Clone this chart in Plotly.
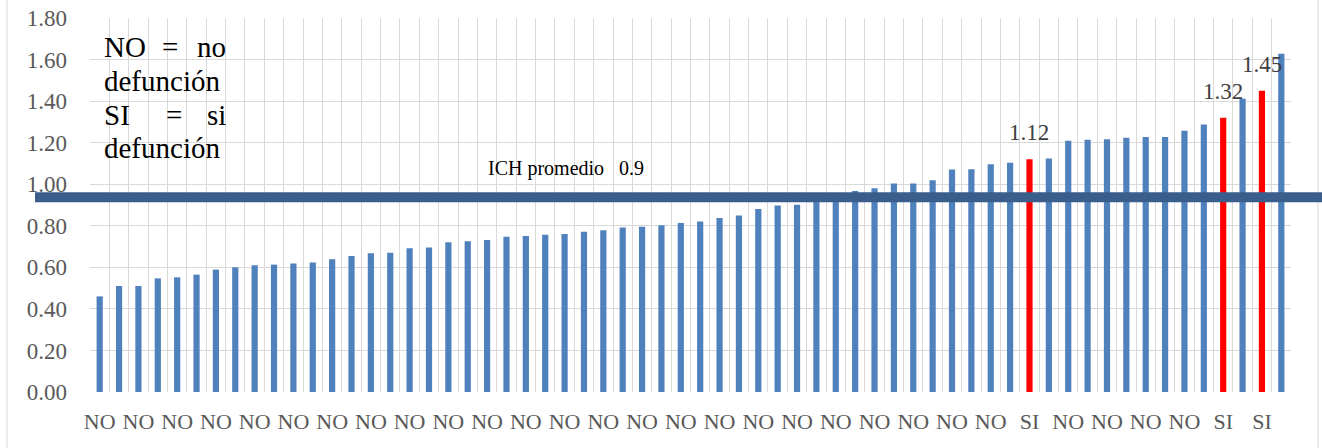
import plotly.graph_objects as go

# ---- data ----
ich_values = [0.46, 0.51, 0.51, 0.547, 0.552, 0.565, 0.589, 0.60, 0.61, 0.613,
              0.618, 0.623, 0.639, 0.654, 0.668, 0.670, 0.692, 0.695, 0.721, 0.726,
              0.731, 0.747, 0.751, 0.757, 0.76, 0.771, 0.778, 0.792, 0.795, 0.802,
              0.813, 0.821, 0.837, 0.85, 0.881, 0.897, 0.901, 0.92, 0.955, 0.967,
              0.981, 1.003, 1.003, 1.019, 1.071, 1.072, 1.096, 1.103, 1.12, 1.124,
              1.209, 1.214, 1.216, 1.224, 1.227, 1.227, 1.257, 1.288, 1.32, 1.411,
              1.45, 1.628]
outcome = ["NO", "NO", "NO", "NO", "NO", "NO", "NO", "NO", "NO", "NO",
           "NO", "NO", "NO", "NO", "NO", "NO", "NO", "NO", "NO", "NO",
           "NO", "NO", "NO", "NO", "NO", "NO", "NO", "NO", "NO", "NO",
           "NO", "NO", "NO", "NO", "NO", "NO", "NO", "NO", "NO", "NO",
           "NO", "NO", "NO", "NO", "NO", "NO", "NO", "NO", "SI", "NO",
           "NO", "NO", "NO", "NO", "NO", "NO", "NO", "NO", "SI", "NO",
           "SI", "NO"]
ich_mean_line = 0.937
ich_mean_label = "ICH promedio   0.9"
y_ticks = [0.0, 0.2, 0.4, 0.6, 0.8, 1.0, 1.2, 1.4, 1.6, 1.8]

positions = list(range(len(ich_values)))
BLUE = "#4F81BD"
RED = "#FF0000"
bar_colors = [RED if o == "SI" else BLUE for o in outcome]

SERIF = "Liberation Serif"
GRID = "#D9D9D9"

fig = go.Figure()
fig.add_trace(go.Bar(
    x=positions, y=ich_values,
    marker=dict(color=bar_colors, line=dict(width=0)),
    width=0.32, showlegend=False, hoverinfo="x+y",
))

# data labels for the "SI" bars
annotations = []
for p, v, o in zip(positions, ich_values, outcome):
    if o == "SI":
        annotations.append(dict(
            x=p, y=v, xref="x", yref="y", text=f"{v:.2f}", showarrow=False,
            yanchor="bottom", xanchor="center", yshift=12,
            font=dict(family=SERIF, size=23, color="#404040")))

# legend-like text box (justified)
tb_font = dict(family=SERIF, size=29, color="#000000")
def add_word(text, x, y, anchor):
    annotations.append(dict(x=x, y=y, xref="paper", yref="paper", text=text,
                            showarrow=False, xanchor=anchor, yanchor="bottom",
                            font=tb_font))
add_word("NO", 0.0097, 0.875, "left")
add_word("=", 0.0666, 0.875, "center")
add_word("no", 0.1147, 0.875, "right")
add_word("defunción", 0.0097, 0.783, "left")
add_word("SI", 0.0097, 0.692, "left")
add_word("=", 0.0699, 0.692, "center")
add_word("si", 0.1147, 0.692, "right")
add_word("defunción", 0.0097, 0.603, "left")

annotations.append(dict(x=0.3963, y=0.5615, xref="paper", yref="paper",
                        text=ich_mean_label, showarrow=False, xanchor="center",
                        yanchor="bottom",
                        font=dict(family=SERIF, size=20, color="#000000")))

shapes = [
    # outer chart frame
    dict(type="rect", xref="paper", yref="paper", x0=-0.0691, x1=1.0225,
         y0=-0.5, y1=1.3, line=dict(color=GRID, width=1), layer="below"),
    # average line
    dict(type="line", xref="paper", yref="y", x0=-0.0458, x1=1.03,
         y0=ich_mean_line, y1=ich_mean_line,
         line=dict(color="#3A5E8C", width=10), layer="above"),
]

fig.update_layout(
    width=1322, height=448,
    margin=dict(l=90, r=31, t=18, b=56),
    paper_bgcolor="white", plot_bgcolor="white",
    template="none",
    font=dict(family=SERIF),
    bargap=0.68,
    annotations=annotations, shapes=shapes,
    xaxis=dict(
        range=[-0.5, len(ich_values) - 0.5],
        tickmode="array", tickvals=positions[::2], ticktext=outcome[::2],
        showgrid=False, zeroline=False, showline=False, ticks="",
        ticklabelstandoff=14,
        tickfont=dict(family=SERIF, size=22, color="#595959"),
        minor=dict(tick0=-0.5, dtick=1, showgrid=True, gridcolor=GRID,
                   gridwidth=1.3, ticks=""),
    ),
    yaxis=dict(
        range=[0, 1.8], tickmode="array", tickvals=y_ticks,
        ticktext=[f"{t:.2f}" for t in y_ticks],
        showgrid=True, gridcolor=GRID, gridwidth=1.3, zeroline=False,
        showline=False, ticks="", ticklabelstandoff=22,
        tickfont=dict(family=SERIF, size=23, color="#595959"),
    ),
)

fig.write_html("out.html")
